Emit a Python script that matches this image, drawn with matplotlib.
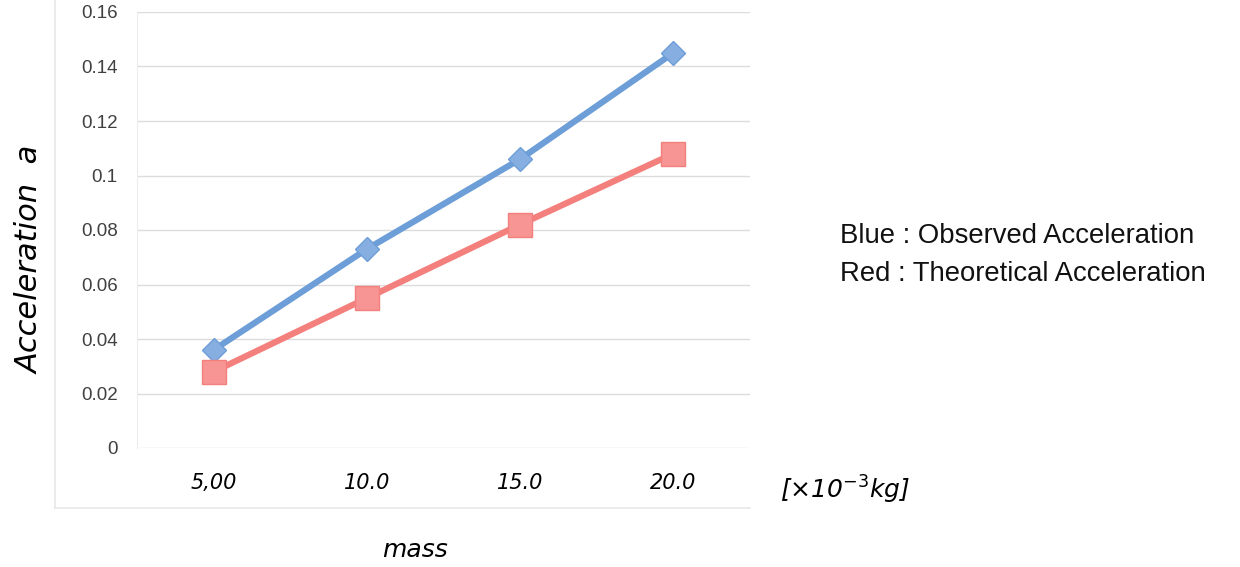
import numpy as np
import matplotlib
matplotlib.use("Agg")
from matplotlib import pyplot as plt
from matplotlib.lines import Line2D

# data
mass_labels = ["5,00", "10.0", "15.0", "20.0"]
observed = [0.036, 0.073, 0.106, 0.145]
theoretical = [0.028, 0.055, 0.082, 0.108]
y_ticks = [0, 0.02, 0.04, 0.06, 0.08, 0.1, 0.12, 0.14, 0.16]
y_tick_labels = ["0", "0.02", "0.04", "0.06", "0.08", "0.1", "0.12", "0.14", "0.16"]

W, H = 1240, 567
fig = plt.figure(figsize=(12.4, 5.67), dpi=100)
fig.patch.set_facecolor("white")

# faint outer chart frame: only left and bottom edges show in the scan
fig.lines.append(Line2D([55 / W, 55 / W], [1 - 508 / H, 1.0], transform=fig.transFigure,
                        color="#e6e8e6", lw=1.2))
fig.lines.append(Line2D([55 / W, 750 / W], [1 - 508 / H, 1 - 508 / H], transform=fig.transFigure,
                        color="#e6e8e6", lw=1.2))

ax = fig.add_axes([137 / W, 1 - 448 / H, (750 - 137) / W, (448 - 12) / H])
x = np.arange(len(mass_labels))

ax.plot(x, observed, color="#6d9ed8", lw=4.5, marker="D", ms=12,
        markerfacecolor="#86aee0", markeredgecolor="#6d9ed8", zorder=3)
ax.plot(x, theoretical, color="#f4807e", lw=4.5, marker="s", ms=17,
        markerfacecolor="#f69593", markeredgecolor="#f4807e", zorder=3)

ax.set_xlim(-0.5, len(mass_labels) - 0.5)
ax.set_ylim(0, 0.16)
ax.set_yticks(y_ticks)
ax.set_yticklabels(y_tick_labels, color="#404040", fontsize=13.5, family="Liberation Sans")
ax.tick_params(axis="y", length=0, pad=14)
ax.set_xticks(x)
ax.set_xticklabels(mass_labels, fontsize=15, style="italic", family="DejaVu Sans")
ax.tick_params(axis="x", length=0, pad=18)
ax.grid(axis="y", color="#dcdcdc", lw=1)
for s in ["top", "right", "bottom"]:
    ax.spines[s].set_visible(False)
ax.spines["left"].set_color("#ebedeb")
ax.set_axisbelow(True)

fig.text(30 / W, 1 - 260 / H, "Acceleration  a", rotation=90, fontsize=22,
         style="italic", family="DejaVu Sans", ha="center", va="center", fontweight="light")
fig.text(415 / W, 1 - 550 / H, "mass", fontsize=18, style="italic",
         family="DejaVu Sans", ha="center", va="center")
fig.text(845 / W, 1 - 490 / H, r"[$\times$10$^{-3}$kg]", fontsize=18, style="italic",
         family="DejaVu Sans", ha="center", va="center")

fig.text(840 / W, 1 - 236 / H, "Blue : Observed Acceleration", fontsize=19.8,
         family="Liberation Sans", color="#111111", ha="left", va="center")
fig.text(840 / W, 1 - 274 / H, "Red : Theoretical Acceleration", fontsize=19.8,
         family="Liberation Sans", color="#111111", ha="left", va="center")

fig.savefig("out.png", dpi=100, facecolor="white")
